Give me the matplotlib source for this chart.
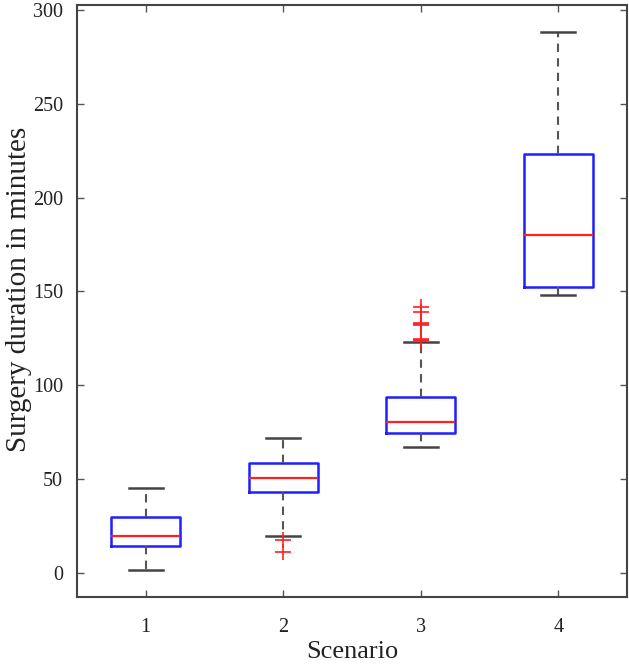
import matplotlib
matplotlib.use("Agg")
import matplotlib.pyplot as plt

# Box statistics (minutes)
scenarios = ["1", "2", "3", "4"]
q1 = [14.4, 43.0, 74.4, 152.5]
medians = [19.9, 50.8, 80.6, 180.0]
q3 = [29.7, 58.4, 93.9, 223.0]
whisker_low = [1.6, 19.9, 67.3, 148.1]
whisker_high = [45.4, 71.8, 122.9, 288.0]
outliers = [
    [],
    [17.6, 11.0],
    [123.5, 124.0, 124.5, 132.0, 132.5, 133.0, 139.2, 141.9],
    [],
]

plt.rcParams["font.family"] = ["Liberation Serif", "DejaVu Serif"]

fig = plt.figure(figsize=(6.29, 6.66), dpi=100)
ax = fig.add_axes([0.1224, 0.1036, 0.8744, 0.8889])

stats = []
for i, name in enumerate(scenarios):
    stats.append({
        "label": name,
        "q1": q1[i],
        "med": medians[i],
        "q3": q3[i],
        "whislo": whisker_low[i],
        "whishi": whisker_high[i],
        "fliers": outliers[i],
    })

ax.bxp(
    stats,
    positions=range(1, len(stats) + 1),
    widths=0.5,
    capwidths=0.25,
    boxprops=dict(color="#1f1fff", linewidth=1.8),
    medianprops=dict(color="#ff2020", linewidth=1.6),
    whiskerprops=dict(color="#555555", linewidth=1.5, linestyle=(0, (4, 3))),
    capprops=dict(color="#444444", linewidth=1.8),
    flierprops=dict(marker="+", markersize=11, markeredgecolor="#ff2020",
                    markeredgewidth=1.2, linestyle="none"),
)

ax.set_xlim(0.5, 4.5)
ax.set_ylim(-12.8, 302.6)
ax.set_yticks([0, 50, 100, 150, 200, 250, 300])
ax.set_xticks([1, 2, 3, 4])
ax.set_xticklabels(scenarios)
ax.tick_params(direction="in", top=True, right=True, length=5, width=1,
               color="#555555", labelsize=14.5, labelcolor="#222222")
ax.tick_params(axis="x", pad=15)
ax.tick_params(axis="y", pad=10)
for spine in ax.spines.values():
    spine.set_color("#444444")
    spine.set_linewidth(1.5)

ax.set_xlabel("Scenario", fontsize=19, labelpad=3, color="#222222")
ax.set_ylabel("Surgery duration in minutes", fontsize=21, color="#222222")
ax.yaxis.set_label_coords(-0.082, 0.52)

fig.savefig("out.png", dpi=100)
